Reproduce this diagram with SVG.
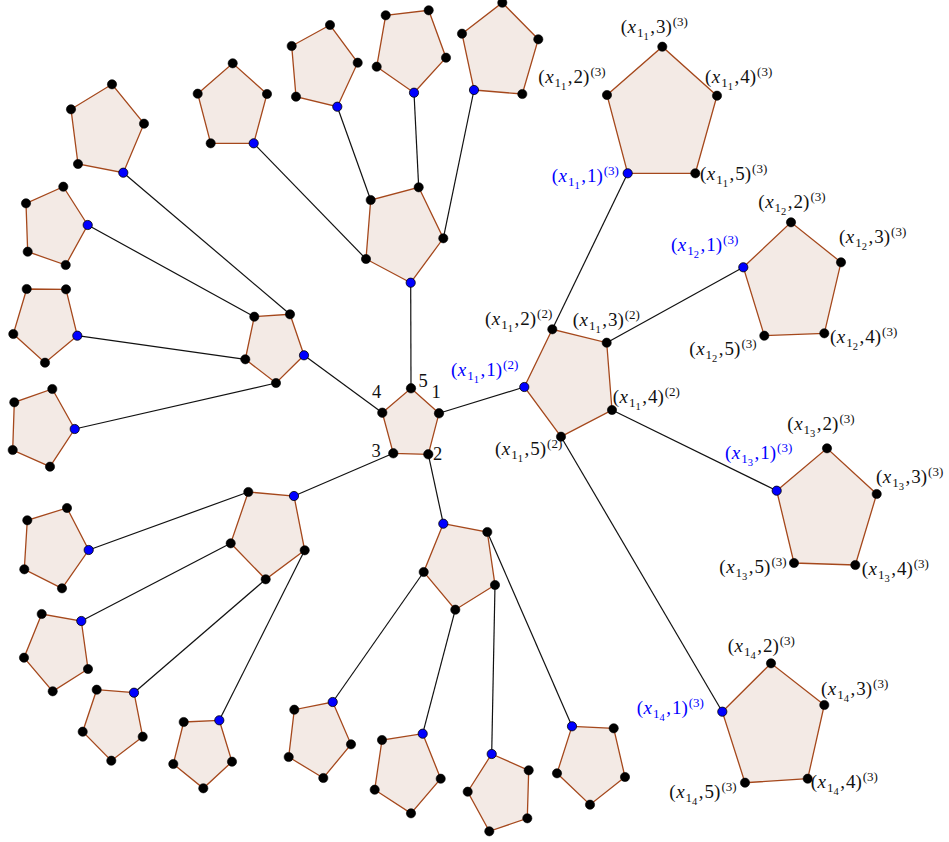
<svg xmlns="http://www.w3.org/2000/svg" width="949" height="842" viewBox="0 0 949 842" font-family="Liberation Serif, Times New Roman, serif">
<style>
.e{stroke:#111;stroke-width:1.2;fill:none}
.p{fill:#f3eae5;stroke:#a5481c;stroke-width:1.3}
.v{fill:#000;stroke:#000;stroke-width:0.6}
.bv{fill:#0000ff;stroke:#000;stroke-width:0.8}
.t{font-family:"Liberation Serif","Times New Roman",serif;font-size:19px;fill:#111}
.c{font-family:"Liberation Serif","Times New Roman",serif;font-size:18.5px;fill:#111}
.b{fill:#0000ff}
.i{font-style:italic}
.s1{font-size:13px}
.s2{font-size:10.5px}
.sp{font-size:13px}
</style>
<rect width="949" height="842" fill="#fff"/>
<g id="connectors">
<line class="e" x1="411" y1="388.3" x2="410.7" y2="282.7"/>
<line class="e" x1="439" y1="413.3" x2="524.3" y2="387"/>
<line class="e" x1="428.3" y1="454.3" x2="443.3" y2="523.7"/>
<line class="e" x1="393.3" y1="453.3" x2="294" y2="496"/>
<line class="e" x1="382.3" y1="412.7" x2="304" y2="355.3"/>
<line class="e" x1="552.3" y1="329.3" x2="627.7" y2="173.3"/>
<line class="e" x1="606.7" y1="342.7" x2="743.3" y2="267.3"/>
<line class="e" x1="612" y1="410" x2="776.7" y2="490.7"/>
<line class="e" x1="561" y1="436.7" x2="722.3" y2="711.7"/>
<line class="e" x1="366" y1="259" x2="253.7" y2="143.3"/>
<line class="e" x1="370.7" y1="200" x2="337.3" y2="106.7"/>
<line class="e" x1="418.7" y1="187.3" x2="414" y2="92.7"/>
<line class="e" x1="443.3" y1="238.3" x2="474" y2="90"/>
<line class="e" x1="290" y1="314.3" x2="123.3" y2="172.7"/>
<line class="e" x1="254.3" y1="316.7" x2="87.7" y2="225"/>
<line class="e" x1="245.3" y1="359.3" x2="77.3" y2="335.7"/>
<line class="e" x1="276" y1="383" x2="74.7" y2="429"/>
<line class="e" x1="248.3" y1="492" x2="88.7" y2="550"/>
<line class="e" x1="230.7" y1="543.3" x2="81.3" y2="621"/>
<line class="e" x1="265.7" y1="579.3" x2="134" y2="692.7"/>
<line class="e" x1="304.7" y1="550.3" x2="219.3" y2="720.3"/>
<line class="e" x1="423.7" y1="572" x2="332.7" y2="702"/>
<line class="e" x1="455.3" y1="609.7" x2="422.7" y2="733.7"/>
<line class="e" x1="495" y1="585" x2="491.7" y2="754"/>
<line class="e" x1="487.3" y1="532" x2="572" y2="726.3"/>
</g>

<g id="center">
<polygon class="p" points="411,388.3 439,413.3 428.3,454.3 393.3,453.3 382.3,412.7"/>
<circle class="v" cx="411" cy="388.3" r="4.7"/><circle class="v" cx="439" cy="413.3" r="4.7"/><circle class="v" cx="428.3" cy="454.3" r="4.7"/><circle class="v" cx="393.3" cy="453.3" r="4.7"/><circle class="v" cx="382.3" cy="412.7" r="4.7"/>
<text class="c" x="418.5" y="387">5</text>
<text class="c" x="431.5" y="398">1</text>
<text class="c" x="372" y="398">4</text>
<text class="c" x="371.5" y="456.7">3</text>
<text class="c" x="433" y="460">2</text>
</g>

<g id="x1-2">
<polygon class="p" points="524.3,387 552.3,329.3 606.7,342.7 612,410 561,436.7"/>
<circle class="bv" cx="524.3" cy="387" r="4.6"/><circle class="v" cx="552.3" cy="329.3" r="4.6"/><circle class="v" cx="606.7" cy="342.7" r="4.6"/><circle class="v" cx="612" cy="410" r="4.6"/><circle class="v" cx="561" cy="436.7" r="4.6"/>
<text class="t b" x="451" y="376">(<tspan class="i" dx="0.5">x</tspan><tspan class="s1" dx="1" dy="4">1</tspan><tspan class="s2" dy="3">1</tspan><tspan dx="1.5" dy="-7">,</tspan><tspan dx="1">1)</tspan><tspan class="sp" dx="1" dy="-7">(2)</tspan></text>
<text class="t" x="485" y="325">(<tspan class="i" dx="0.5">x</tspan><tspan class="s1" dx="1" dy="4">1</tspan><tspan class="s2" dy="3">1</tspan><tspan dx="1.5" dy="-7">,</tspan><tspan dx="1">2)</tspan><tspan class="sp" dx="1" dy="-7">(2)</tspan></text>
<text class="t" x="572.7" y="326">(<tspan class="i" dx="0.5">x</tspan><tspan class="s1" dx="1" dy="4">1</tspan><tspan class="s2" dy="3">1</tspan><tspan dx="1.5" dy="-7">,</tspan><tspan dx="1">3)</tspan><tspan class="sp" dx="1" dy="-7">(2)</tspan></text>
<text class="t" x="612.7" y="402.7">(<tspan class="i" dx="0.5">x</tspan><tspan class="s1" dx="1" dy="4">1</tspan><tspan class="s2" dy="3">1</tspan><tspan dx="1.5" dy="-7">,</tspan><tspan dx="1">4)</tspan><tspan class="sp" dx="1" dy="-7">(2)</tspan></text>
<text class="t" x="495" y="455">(<tspan class="i" dx="0.5">x</tspan><tspan class="s1" dx="1" dy="4">1</tspan><tspan class="s2" dy="3">1</tspan><tspan dx="1.5" dy="-7">,</tspan><tspan dx="1">5)</tspan><tspan class="sp" dx="1" dy="-7">(2)</tspan></text>
</g>

<g id="x11-3">
<polygon class="p" points="627.7,173.3 607,95 662.3,46.7 717,95.7 695.3,173.3"/>
<circle class="bv" cx="627.7" cy="173.3" r="4.6"/><circle class="v" cx="607" cy="95" r="4.6"/><circle class="v" cx="662.3" cy="46.7" r="4.6"/><circle class="v" cx="717" cy="95.7" r="4.6"/><circle class="v" cx="695.3" cy="173.3" r="4.6"/>
<text class="t b" x="551.7" y="181.7">(<tspan class="i" dx="0.5">x</tspan><tspan class="s1" dx="1" dy="4">1</tspan><tspan class="s2" dy="3">1</tspan><tspan dx="1.5" dy="-7">,</tspan><tspan dx="1">1)</tspan><tspan class="sp" dx="1" dy="-7">(3)</tspan></text>
<text class="t" x="538.3" y="83.3">(<tspan class="i" dx="0.5">x</tspan><tspan class="s1" dx="1" dy="4">1</tspan><tspan class="s2" dy="3">1</tspan><tspan dx="1.5" dy="-7">,</tspan><tspan dx="1">2)</tspan><tspan class="sp" dx="1" dy="-7">(3)</tspan></text>
<text class="t" x="620.7" y="33">(<tspan class="i" dx="0.5">x</tspan><tspan class="s1" dx="1" dy="4">1</tspan><tspan class="s2" dy="3">1</tspan><tspan dx="1.5" dy="-7">,</tspan><tspan dx="1">3)</tspan><tspan class="sp" dx="1" dy="-7">(3)</tspan></text>
<text class="t" x="705" y="83.3">(<tspan class="i" dx="0.5">x</tspan><tspan class="s1" dx="1" dy="4">1</tspan><tspan class="s2" dy="3">1</tspan><tspan dx="1.5" dy="-7">,</tspan><tspan dx="1">4)</tspan><tspan class="sp" dx="1" dy="-7">(3)</tspan></text>
<text class="t" x="700" y="180">(<tspan class="i" dx="0.5">x</tspan><tspan class="s1" dx="1" dy="4">1</tspan><tspan class="s2" dy="3">1</tspan><tspan dx="1.5" dy="-7">,</tspan><tspan dx="1">5)</tspan><tspan class="sp" dx="1" dy="-7">(3)</tspan></text>
</g>

<g id="x12-3">
<polygon class="p" points="743.3,267.3 791,222.3 841,262.3 824.3,333.3 764.3,335.7"/>
<circle class="bv" cx="743.3" cy="267.3" r="4.6"/><circle class="v" cx="791" cy="222.3" r="4.6"/><circle class="v" cx="841" cy="262.3" r="4.6"/><circle class="v" cx="824.3" cy="333.3" r="4.6"/><circle class="v" cx="764.3" cy="335.7" r="4.6"/>
<text class="t b" x="671" y="250.7">(<tspan class="i" dx="0.5">x</tspan><tspan class="s1" dx="1" dy="4">1</tspan><tspan class="s2" dy="3">2</tspan><tspan dx="1.5" dy="-7">,</tspan><tspan dx="1">1)</tspan><tspan class="sp" dx="1" dy="-7">(3)</tspan></text>
<text class="t" x="758.3" y="207.5">(<tspan class="i" dx="0.5">x</tspan><tspan class="s1" dx="1" dy="4">1</tspan><tspan class="s2" dy="3">2</tspan><tspan dx="1.5" dy="-7">,</tspan><tspan dx="1">2)</tspan><tspan class="sp" dx="1" dy="-7">(3)</tspan></text>
<text class="t" x="839" y="242.7">(<tspan class="i" dx="0.5">x</tspan><tspan class="s1" dx="1" dy="4">1</tspan><tspan class="s2" dy="3">2</tspan><tspan dx="1.5" dy="-7">,</tspan><tspan dx="1">3)</tspan><tspan class="sp" dx="1" dy="-7">(3)</tspan></text>
<text class="t" x="830" y="343.3">(<tspan class="i" dx="0.5">x</tspan><tspan class="s1" dx="1" dy="4">1</tspan><tspan class="s2" dy="3">2</tspan><tspan dx="1.5" dy="-7">,</tspan><tspan dx="1">4)</tspan><tspan class="sp" dx="1" dy="-7">(3)</tspan></text>
<text class="t" x="689.3" y="355">(<tspan class="i" dx="0.5">x</tspan><tspan class="s1" dx="1" dy="4">1</tspan><tspan class="s2" dy="3">2</tspan><tspan dx="1.5" dy="-7">,</tspan><tspan dx="1">5)</tspan><tspan class="sp" dx="1" dy="-7">(3)</tspan></text>
</g>

<g id="x13-3">
<polygon class="p" points="776.7,490.7 827,448.3 876.7,494 855.3,565 794,563"/>
<circle class="bv" cx="776.7" cy="490.7" r="4.6"/><circle class="v" cx="827" cy="448.3" r="4.6"/><circle class="v" cx="876.7" cy="494" r="4.6"/><circle class="v" cx="855.3" cy="565" r="4.6"/><circle class="v" cx="794" cy="563" r="4.6"/>
<text class="t b" x="725" y="459.3">(<tspan class="i" dx="0.5">x</tspan><tspan class="s1" dx="1" dy="4">1</tspan><tspan class="s2" dy="3">3</tspan><tspan dx="1.5" dy="-7">,</tspan><tspan dx="1">1)</tspan><tspan class="sp" dx="1" dy="-7">(3)</tspan></text>
<text class="t" x="787.3" y="430">(<tspan class="i" dx="0.5">x</tspan><tspan class="s1" dx="1" dy="4">1</tspan><tspan class="s2" dy="3">3</tspan><tspan dx="1.5" dy="-7">,</tspan><tspan dx="1">2)</tspan><tspan class="sp" dx="1" dy="-7">(3)</tspan></text>
<text class="t" x="876" y="483.3">(<tspan class="i" dx="0.5">x</tspan><tspan class="s1" dx="1" dy="4">1</tspan><tspan class="s2" dy="3">3</tspan><tspan dx="1.5" dy="-7">,</tspan><tspan dx="1">3)</tspan><tspan class="sp" dx="1" dy="-7">(3)</tspan></text>
<text class="t" x="861.7" y="575">(<tspan class="i" dx="0.5">x</tspan><tspan class="s1" dx="1" dy="4">1</tspan><tspan class="s2" dy="3">3</tspan><tspan dx="1.5" dy="-7">,</tspan><tspan dx="1">4)</tspan><tspan class="sp" dx="1" dy="-7">(3)</tspan></text>
<text class="t" x="719.3" y="573.3">(<tspan class="i" dx="0.5">x</tspan><tspan class="s1" dx="1" dy="4">1</tspan><tspan class="s2" dy="3">3</tspan><tspan dx="1.5" dy="-7">,</tspan><tspan dx="1">5)</tspan><tspan class="sp" dx="1" dy="-7">(3)</tspan></text>
</g>

<g id="x14-3">
<polygon class="p" points="722.3,711.7 771,663.3 824.3,705 807.7,778.7 745,782.7"/>
<circle class="bv" cx="722.3" cy="711.7" r="4.6"/><circle class="v" cx="771" cy="663.3" r="4.6"/><circle class="v" cx="824.3" cy="705" r="4.6"/><circle class="v" cx="807.7" cy="778.7" r="4.6"/><circle class="v" cx="745" cy="782.7" r="4.6"/>
<text class="t b" x="636.7" y="714.3">(<tspan class="i" dx="0.5">x</tspan><tspan class="s1" dx="1" dy="4">1</tspan><tspan class="s2" dy="3">4</tspan><tspan dx="1.5" dy="-7">,</tspan><tspan dx="1">1)</tspan><tspan class="sp" dx="1" dy="-7">(3)</tspan></text>
<text class="t" x="727.7" y="652.3">(<tspan class="i" dx="0.5">x</tspan><tspan class="s1" dx="1" dy="4">1</tspan><tspan class="s2" dy="3">4</tspan><tspan dx="1.5" dy="-7">,</tspan><tspan dx="1">2)</tspan><tspan class="sp" dx="1" dy="-7">(3)</tspan></text>
<text class="t" x="821" y="695">(<tspan class="i" dx="0.5">x</tspan><tspan class="s1" dx="1" dy="4">1</tspan><tspan class="s2" dy="3">4</tspan><tspan dx="1.5" dy="-7">,</tspan><tspan dx="1">3)</tspan><tspan class="sp" dx="1" dy="-7">(3)</tspan></text>
<text class="t" x="810.7" y="788.3">(<tspan class="i" dx="0.5">x</tspan><tspan class="s1" dx="1" dy="4">1</tspan><tspan class="s2" dy="3">4</tspan><tspan dx="1.5" dy="-7">,</tspan><tspan dx="1">4)</tspan><tspan class="sp" dx="1" dy="-7">(3)</tspan></text>
<text class="t" x="669.3" y="798.3">(<tspan class="i" dx="0.5">x</tspan><tspan class="s1" dx="1" dy="4">1</tspan><tspan class="s2" dy="3">4</tspan><tspan dx="1.5" dy="-7">,</tspan><tspan dx="1">5)</tspan><tspan class="sp" dx="1" dy="-7">(3)</tspan></text>
</g>

<g id="top-2">
<polygon class="p" points="410.7,282.7 443.3,238.3 418.7,187.3 370.7,200 366,259"/>
<circle class="bv" cx="410.7" cy="282.7" r="4.6"/><circle class="v" cx="443.3" cy="238.3" r="4.6"/><circle class="v" cx="418.7" cy="187.3" r="4.6"/><circle class="v" cx="370.7" cy="200" r="4.6"/><circle class="v" cx="366" cy="259" r="4.6"/>
</g>
<g id="top-a">
<polygon class="p" points="337.3,106.7 357.7,62.7 330,25 291.7,46 296,96.7"/>
<circle class="bv" cx="337.3" cy="106.7" r="4.6"/><circle class="v" cx="357.7" cy="62.7" r="4.6"/><circle class="v" cx="330" cy="25" r="4.6"/><circle class="v" cx="291.7" cy="46" r="4.6"/><circle class="v" cx="296" cy="96.7" r="4.6"/>
</g>
<g id="top-b">
<polygon class="p" points="414,92.7 446,57.7 428.7,10.3 385.7,15.3 376.7,66.7"/>
<circle class="bv" cx="414" cy="92.7" r="4.6"/><circle class="v" cx="446" cy="57.7" r="4.6"/><circle class="v" cx="428.7" cy="10.3" r="4.6"/><circle class="v" cx="385.7" cy="15.3" r="4.6"/><circle class="v" cx="376.7" cy="66.7" r="4.6"/>
</g>
<g id="top-c">
<polygon class="p" points="474,90 522.3,94 538.3,39.3 502.3,2.7 462,33.7"/>
<circle class="bv" cx="474" cy="90" r="4.6"/><circle class="v" cx="522.3" cy="94" r="4.6"/><circle class="v" cx="538.3" cy="39.3" r="4.6"/><circle class="v" cx="502.3" cy="2.7" r="4.6"/><circle class="v" cx="462" cy="33.7" r="4.6"/>
</g>
<g id="top-d">
<polygon class="p" points="253.7,143.3 267,94 232.7,63.3 197.7,93.7 210.7,143.3"/>
<circle class="bv" cx="253.7" cy="143.3" r="4.6"/><circle class="v" cx="267" cy="94" r="4.6"/><circle class="v" cx="232.7" cy="63.3" r="4.6"/><circle class="v" cx="197.7" cy="93.7" r="4.6"/><circle class="v" cx="210.7" cy="143.3" r="4.6"/>
</g>

<g id="left-2">
<polygon class="p" points="304,355.3 290,314.3 254.3,316.7 245.3,359.3 276,383"/>
<circle class="bv" cx="304" cy="355.3" r="4.6"/><circle class="v" cx="290" cy="314.3" r="4.6"/><circle class="v" cx="254.3" cy="316.7" r="4.6"/><circle class="v" cx="245.3" cy="359.3" r="4.6"/><circle class="v" cx="276" cy="383" r="4.6"/>
</g>
<g id="left-e">
<polygon class="p" points="123.3,172.7 144,123.7 112,84.3 71,109.3 78,164"/>
<circle class="bv" cx="123.3" cy="172.7" r="4.6"/><circle class="v" cx="144" cy="123.7" r="4.6"/><circle class="v" cx="112" cy="84.3" r="4.6"/><circle class="v" cx="71" cy="109.3" r="4.6"/><circle class="v" cx="78" cy="164" r="4.6"/>
</g>
<g id="left-f">
<polygon class="p" points="87.7,225 63.3,186.7 26,203.3 27.7,251.7 65.7,265"/>
<circle class="bv" cx="87.7" cy="225" r="4.6"/><circle class="v" cx="63.3" cy="186.7" r="4.6"/><circle class="v" cx="26" cy="203.3" r="4.6"/><circle class="v" cx="27.7" cy="251.7" r="4.6"/><circle class="v" cx="65.7" cy="265" r="4.6"/>
</g>
<g id="left-g">
<polygon class="p" points="77.3,335.7 66,289.3 26.7,289 13.3,334 45,362.7"/>
<circle class="bv" cx="77.3" cy="335.7" r="4.6"/><circle class="v" cx="66" cy="289.3" r="4.6"/><circle class="v" cx="26.7" cy="289" r="4.6"/><circle class="v" cx="13.3" cy="334" r="4.6"/><circle class="v" cx="45" cy="362.7" r="4.6"/>
</g>
<g id="left-h">
<polygon class="p" points="74.7,429 52.3,389 14.3,402.3 12.7,450 50,466.7"/>
<circle class="bv" cx="74.7" cy="429" r="4.6"/><circle class="v" cx="52.3" cy="389" r="4.6"/><circle class="v" cx="14.3" cy="402.3" r="4.6"/><circle class="v" cx="12.7" cy="450" r="4.6"/><circle class="v" cx="50" cy="466.7" r="4.6"/>
</g>

<g id="bl-2">
<polygon class="p" points="294,496 304.7,550.3 265.7,579.3 230.7,543.3 248.3,492"/>
<circle class="bv" cx="294" cy="496" r="4.6"/><circle class="v" cx="304.7" cy="550.3" r="4.6"/><circle class="v" cx="265.7" cy="579.3" r="4.6"/><circle class="v" cx="230.7" cy="543.3" r="4.6"/><circle class="v" cx="248.3" cy="492" r="4.6"/>
</g>
<g id="bl-j">
<polygon class="p" points="88.7,550 67,508 27.3,520.3 24.3,569.3 62,588.3"/>
<circle class="bv" cx="88.7" cy="550" r="4.6"/><circle class="v" cx="67" cy="508" r="4.6"/><circle class="v" cx="27.3" cy="520.3" r="4.6"/><circle class="v" cx="24.3" cy="569.3" r="4.6"/><circle class="v" cx="62" cy="588.3" r="4.6"/>
</g>
<g id="bl-k">
<polygon class="p" points="81.3,621 88,669 52.7,691.3 24,657.7 41.7,614"/>
<circle class="bv" cx="81.3" cy="621" r="4.6"/><circle class="v" cx="88" cy="669" r="4.6"/><circle class="v" cx="52.7" cy="691.3" r="4.6"/><circle class="v" cx="24" cy="657.7" r="4.6"/><circle class="v" cx="41.7" cy="614" r="4.6"/>
</g>
<g id="bl-l">
<polygon class="p" points="134,692.7 142.7,736.7 111.3,760.7 82.7,731.7 96.7,689.7"/>
<circle class="bv" cx="134" cy="692.7" r="4.6"/><circle class="v" cx="142.7" cy="736.7" r="4.6"/><circle class="v" cx="111.3" cy="760.7" r="4.6"/><circle class="v" cx="82.7" cy="731.7" r="4.6"/><circle class="v" cx="96.7" cy="689.7" r="4.6"/>
</g>
<g id="bl-m">
<polygon class="p" points="219.3,720.3 232,761.7 203.3,788.3 173.3,764 183.7,722"/>
<circle class="bv" cx="219.3" cy="720.3" r="4.6"/><circle class="v" cx="232" cy="761.7" r="4.6"/><circle class="v" cx="203.3" cy="788.3" r="4.6"/><circle class="v" cx="173.3" cy="764" r="4.6"/><circle class="v" cx="183.7" cy="722" r="4.6"/>
</g>

<g id="bot-2">
<polygon class="p" points="443.3,523.7 487.3,532 495,585 455.3,609.7 423.7,572"/>
<circle class="bv" cx="443.3" cy="523.7" r="4.6"/><circle class="v" cx="487.3" cy="532" r="4.6"/><circle class="v" cx="495" cy="585" r="4.6"/><circle class="v" cx="455.3" cy="609.7" r="4.6"/><circle class="v" cx="423.7" cy="572" r="4.6"/>
</g>
<g id="bot-n">
<polygon class="p" points="332.7,702 351,744.3 323.3,778 288.7,757 294.3,709.7"/>
<circle class="bv" cx="332.7" cy="702" r="4.6"/><circle class="v" cx="351" cy="744.3" r="4.6"/><circle class="v" cx="323.3" cy="778" r="4.6"/><circle class="v" cx="288.7" cy="757" r="4.6"/><circle class="v" cx="294.3" cy="709.7" r="4.6"/>
</g>
<g id="bot-o">
<polygon class="p" points="422.7,733.7 440.7,778.7 411,813.3 374.7,789.7 382,740"/>
<circle class="bv" cx="422.7" cy="733.7" r="4.6"/><circle class="v" cx="440.7" cy="778.7" r="4.6"/><circle class="v" cx="411" cy="813.3" r="4.6"/><circle class="v" cx="374.7" cy="789.7" r="4.6"/><circle class="v" cx="382" cy="740" r="4.6"/>
</g>
<g id="bot-p">
<polygon class="p" points="491.7,754 528.7,770.3 527.3,818.3 489.3,831.3 467.7,791.7"/>
<circle class="bv" cx="491.7" cy="754" r="4.6"/><circle class="v" cx="528.7" cy="770.3" r="4.6"/><circle class="v" cx="527.3" cy="818.3" r="4.6"/><circle class="v" cx="489.3" cy="831.3" r="4.6"/><circle class="v" cx="467.7" cy="791.7" r="4.6"/>
</g>
<g id="bot-q">
<polygon class="p" points="572,726.3 613.7,728.3 625,777 590,804.7 557,773.3"/>
<circle class="bv" cx="572" cy="726.3" r="4.6"/><circle class="v" cx="613.7" cy="728.3" r="4.6"/><circle class="v" cx="625" cy="777" r="4.6"/><circle class="v" cx="590" cy="804.7" r="4.6"/><circle class="v" cx="557" cy="773.3" r="4.6"/>
</g>
</svg>
